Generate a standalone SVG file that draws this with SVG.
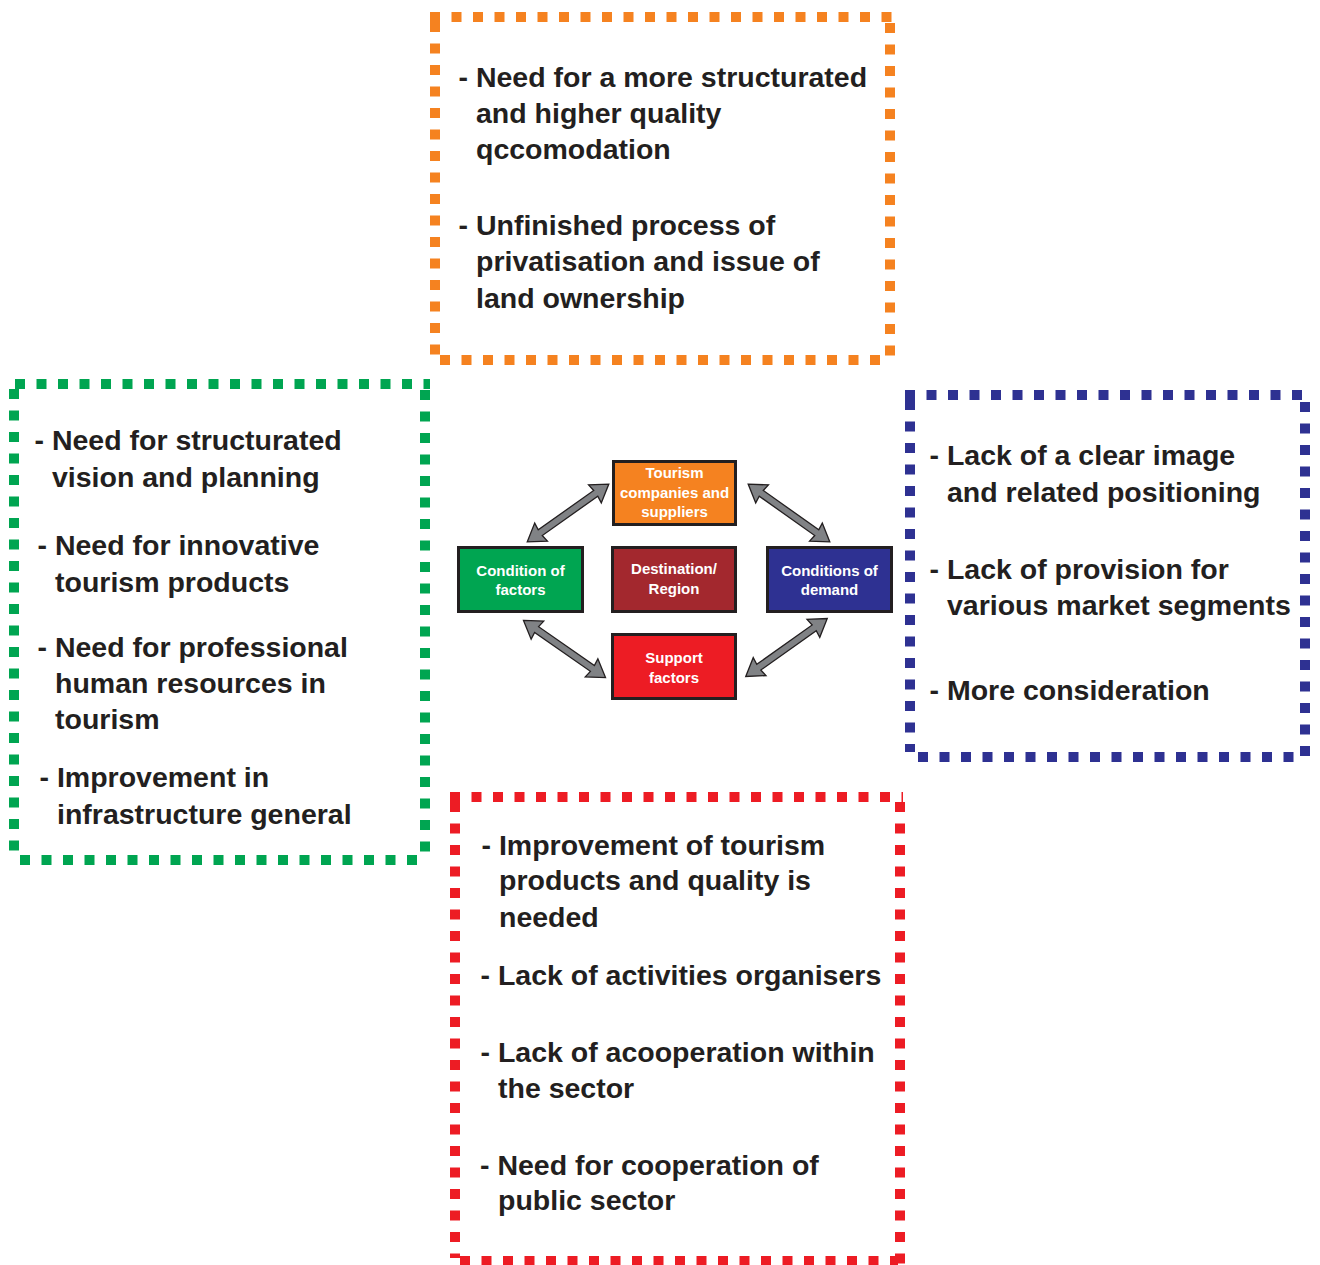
<svg xmlns="http://www.w3.org/2000/svg" width="1320" height="1265" viewBox="0 0 1320 1265">
<style>
.t{font-family:"Liberation Sans",Arial,sans-serif;font-weight:bold;font-size:28.5px;fill:#231f20}
.c{font-family:"Liberation Sans",Arial,sans-serif;font-weight:bold;font-size:15px;fill:#ffffff;text-anchor:middle}
.d{fill:none;stroke-width:10;stroke-dasharray:10 11.5}
.b{stroke:#231f20;stroke-width:3}
.ar{fill:#808285;stroke:#231f20;stroke-width:1.3;stroke-linejoin:miter}
</style>
<defs>
<polygon id="arr" class="ar" points="-50,0 -33,-11 -34,-3.5 34,-3.5 33,-11 50,0 33,11 34,3.5 -34,3.5 -33,11"/>
</defs>
<rect width="1320" height="1265" fill="#ffffff"/>

<g id="box-orange">
<path class="d" stroke="#f58220" d="M430,17 H893 M435,22 V360 M890,23 V362 M440,360 H888"/>
<text class="t" x="458.5" y="87">- Need for a more structurated</text>
<text class="t" x="476" y="123">and higher quality</text>
<text class="t" x="476" y="159">qccomodation</text>
<text class="t" x="458.5" y="235">- Unfinished process of</text>
<text class="t" x="476" y="271">privatisation and issue of</text>
<text class="t" x="476" y="308">land ownership</text>
</g>

<g id="box-green">
<path class="d" stroke="#00a551" d="M15,384 H430 M14,389 V855 M425,390 V862 M20,860 H420"/>
<text class="t" x="34.5" y="450">- Need for structurated</text>
<text class="t" x="52" y="487">vision and planning</text>
<text class="t" x="37.5" y="555">- Need for innovative</text>
<text class="t" x="55" y="592">tourism products</text>
<text class="t" x="37.5" y="657">- Need for professional</text>
<text class="t" x="55" y="693">human resources in</text>
<text class="t" x="55" y="729">tourism</text>
<text class="t" x="39.5" y="787">- Improvement in</text>
<text class="t" x="57" y="824">infrastructure general</text>
</g>

<g id="box-blue">
<path class="d" stroke="#2e3192" d="M905,395 H1310 M910,400 V752 M1305,402 V760 M918,757 H1300"/>
<text class="t" x="929.5" y="465">- Lack of a clear image</text>
<text class="t" x="947" y="502">and related positioning</text>
<text class="t" x="929.5" y="579">- Lack of provision for</text>
<text class="t" x="947" y="615">various market segments</text>
<text class="t" x="929.5" y="700">- More consideration</text>
</g>

<g id="box-red">
<path class="d" stroke="#ed1c24" d="M450,797 H903 M455,802 V1258 M900,802 V1265 M460,1261 H898"/>
<text class="t" x="481.5" y="855">- Improvement of tourism</text>
<text class="t" x="499" y="890">products and quality is</text>
<text class="t" x="499" y="927">needed</text>
<text class="t" x="480.5" y="985">- Lack of activities organisers</text>
<text class="t" x="480.5" y="1062">- Lack of acooperation within</text>
<text class="t" x="498" y="1098">the sector</text>
<text class="t" x="480" y="1175">- Need for cooperation of</text>
<text class="t" x="498" y="1210">public sector</text>
</g>

<g id="connectors">
<use href="#arr" transform="translate(568,513) rotate(-35.3)"/>
<use href="#arr" transform="translate(789,513) rotate(35.3)"/>
<use href="#arr" transform="translate(564.5,649) rotate(34.9)"/>
<use href="#arr" transform="translate(786.5,647.5) rotate(-35.4)"/>
</g>

<g id="node-tourism">
<rect class="b" x="613.5" y="461.5" width="122" height="63" fill="#f58220"/>
<text class="c" x="674.5" y="478">Tourism</text>
<text class="c" x="674.5" y="497.5">companies and</text>
<text class="c" x="674.5" y="517">suppliers</text>
</g>
<g id="node-factors">
<rect class="b" x="458.5" y="547.5" width="124" height="64" fill="#00a551"/>
<text class="c" x="520.5" y="576">Condition of</text>
<text class="c" x="520.5" y="595">factors</text>
</g>
<g id="node-destination">
<rect class="b" x="612.5" y="547.5" width="123" height="64" fill="#a3282e"/>
<text class="c" x="674" y="574">Destination/</text>
<text class="c" x="674" y="594">Region</text>
</g>
<g id="node-demand">
<rect class="b" x="767.5" y="547.5" width="124" height="64" fill="#2e3192"/>
<text class="c" x="829.5" y="576">Conditions of</text>
<text class="c" x="829.5" y="595">demand</text>
</g>
<g id="node-support">
<rect class="b" x="612.5" y="634.5" width="123" height="64" fill="#ed1c24"/>
<text class="c" x="674" y="663">Support</text>
<text class="c" x="674" y="683">factors</text>
</g>
</svg>
